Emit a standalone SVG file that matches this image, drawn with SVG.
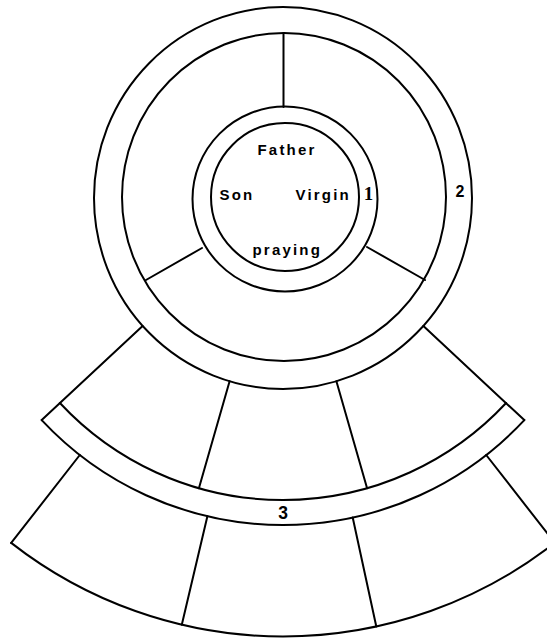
<svg xmlns="http://www.w3.org/2000/svg" width="547" height="639" viewBox="0 0 547 639">
<style>
.ln{fill:none;stroke:#000;stroke-width:2;stroke-linecap:round}
.lbl{font-family:"Liberation Sans",Arial,sans-serif;font-weight:bold;font-size:15px;letter-spacing:2.2px;fill:#000}
.num{font-family:"Liberation Sans",Arial,sans-serif;fill:#000}
</style>
<rect width="547" height="639" fill="#fff"/>
<g id="ring-2">
<ellipse class="ln" cx="283" cy="198" rx="189" ry="191"/>
<ellipse class="ln" cx="284" cy="197" rx="162" ry="164"/>
<text class="num" x="460" y="197" font-size="16" text-anchor="middle" font-weight="bold">2</text>
</g>
<g id="ring-1">
<circle class="ln" cx="285" cy="199" r="92.5"/>
<circle class="ln" cx="285" cy="197" r="74"/>
<text class="num" x="368.5" y="200" font-size="19" text-anchor="middle" font-weight="bold" style="font-family:'Liberation Serif','Times New Roman',serif">1</text>
</g>
<g id="center-labels">
<text class="lbl" x="257.5" y="155">Father</text>
<text class="lbl" x="219.5" y="199.5">Son</text>
<text class="lbl" x="295.5" y="199.5">Virgin</text>
<text class="lbl" x="252.5" y="254.5">praying</text>
</g>
<g id="sector-lines">
<line class="ln" x1="283.5" y1="33" x2="283.5" y2="107"/>
<line class="ln" x1="146" y1="280" x2="202" y2="248"/>
<line class="ln" x1="367" y1="247" x2="425" y2="280"/>
</g>
<g id="fan-upper">
<line class="ln" x1="142.6" y1="326" x2="41.7" y2="420.1"/>
<line class="ln" x1="423.4" y1="326" x2="524.3" y2="420.1"/>
<line class="ln" x1="229.6" y1="381.2" x2="198.9" y2="488.2"/>
<line class="ln" x1="336.4" y1="381.2" x2="367.1" y2="488.2"/>
</g>
<g id="band-3">
<path class="ln" d="M59.9 403 A305 305 0 0 0 506.1 403"/>
<path class="ln" d="M41.7 420.1 A330 330 0 0 0 524.3 420.1"/>
<text class="num" x="283" y="519" font-size="17.5" text-anchor="middle" style="font-weight:600">3</text>
</g>
<g id="fan-lower">
<line class="ln" x1="79.8" y1="455" x2="11.2" y2="542.9"/>
<line class="ln" x1="486.2" y1="455" x2="554.8" y2="542.9"/>
<line class="ln" x1="207.4" y1="516.2" x2="181.8" y2="624.7"/>
<line class="ln" x1="352.7" y1="517.5" x2="376.3" y2="626.5"/>
<path class="ln" d="M11.2 542.9 A441.5 441.5 0 0 0 554.8 542.9"/>
</g>
</svg>
